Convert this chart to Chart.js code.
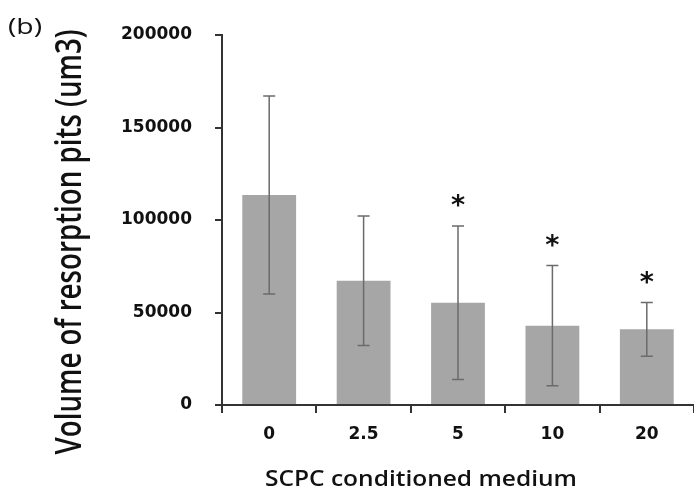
<!DOCTYPE html>
<html lang="en">
<head>
  <meta charset="UTF-8">
  <title>Volume of resorption pits</title>
  <script src="https://cdn.jsdelivr.net/npm/chart.js"></script>
  <style>
    html, body { margin: 0; padding: 0; background: #fff; }
    .wrap { position: relative; width: 694px; height: 491px; }
  </style>
</head>
<body>
  <div class="wrap"><canvas id="pitsChart"></canvas></div>

  <script>
    // values
    const doses = ['0', '2.5', '5', '10', '20'];
    const meanVolume = [113500, 67200, 55300, 42900, 40900];
    const sdVolume = [53500, 35000, 41500, 32500, 14500];
    const significant = [false, false, true, true, true];
    const yTicks = [0, 50000, 100000, 150000, 200000];

    const panelLabel = '(b)';
    const yTitle = 'Volume of resorption pits (um3)';
    const xTitle = 'SCPC conditioned medium';

    const axisColor = '#333';
    const tickFont = { family: 'DejaVu Sans', weight: 'bold', size: 17 };

    // text stretched to a given length (the source figure was resized unevenly)
    function stretchedText(ctx, text, font, cx, baseY, length, tall, angle) {
      ctx.save();
      ctx.font = font;
      const w = ctx.measureText(text).width;
      ctx.translate(cx, baseY);
      ctx.rotate(angle);
      ctx.scale(length / w, tall);
      ctx.textAlign = 'center';
      ctx.textBaseline = 'alphabetic';
      ctx.fillText(text, 0, 0);
      ctx.restore();
    }

    // error bars, stars, titles and panel letter
    const extras = {
      id: 'extras',
      afterDatasetsDraw(chart) {
        const ctx = chart.ctx;
        const y = chart.scales.y;
        const bars = chart.getDatasetMeta(0).data;
        ctx.save();
        ctx.strokeStyle = '#6b6b6b';
        ctx.lineWidth = 1.5;
        bars.forEach((bar, i) => {
          const hi = y.getPixelForValue(meanVolume[i] + sdVolume[i]);
          const lo = y.getPixelForValue(meanVolume[i] - sdVolume[i]);
          ctx.beginPath();
          ctx.moveTo(bar.x, hi); ctx.lineTo(bar.x, lo);
          ctx.moveTo(bar.x - 6, hi); ctx.lineTo(bar.x + 6, hi);
          ctx.moveTo(bar.x - 6, lo); ctx.lineTo(bar.x + 6, lo);
          ctx.stroke();

          if (significant[i]) {
            ctx.fillStyle = '#111';
            ctx.font = 'bold 27px "DejaVu Sans"';
            ctx.textAlign = 'center';
            ctx.textBaseline = 'alphabetic';
            const m = ctx.measureText('*');
            const mid = (m.actualBoundingBoxAscent - m.actualBoundingBoxDescent) / 2;
            ctx.fillText('*', bar.x, hi - 25 + mid);
          }
        });
        ctx.restore();
      },
      afterDraw(chart) {
        const ctx = chart.ctx;
        ctx.fillStyle = '#111';
        stretchedText(ctx, yTitle, '600 24px "Open Sans"', 81, 242, 425, 1.5, -Math.PI / 2);
        stretchedText(ctx, xTitle, '600 21px "Open Sans"', 421, 486, 312, 1, 0);

        ctx.save();
        ctx.font = '21px "Open Sans"';
        ctx.translate(8, 34);
        ctx.scale(1.35, 1);
        ctx.textAlign = 'left';
        ctx.fillText(panelLabel, 0, 0);
        ctx.restore();
      }
    };

    new Chart(document.getElementById('pitsChart'), {
      type: 'bar',
      data: {
        labels: doses,
        datasets: [{
          data: meanVolume,
          backgroundColor: '#a6a6a6',
          categoryPercentage: 1,
          barPercentage: 0.57
        }]
      },
      options: {
        responsive: true,
        maintainAspectRatio: false,
        animation: false,
        layout: { padding: { top: 35, right: 0, bottom: 0, left: 0 } },
        plugins: { legend: { display: false }, tooltip: { enabled: false } },
        scales: {
          x: {
            afterFit: s => { s.height = 86; },
            border: { color: axisColor, width: 2 },
            grid: { offset: true, drawOnChartArea: false, tickLength: 8, color: axisColor, lineWidth: 2 },
            ticks: { color: '#111', padding: 11, font: tickFont }
          },
          y: {
            min: 0,
            max: 200000,
            afterBuildTicks: s => { s.ticks = yTicks.map(v => ({ value: v })); },
            afterFit: s => { s.width = 222; },
            border: { color: axisColor, width: 2 },
            grid: { drawOnChartArea: false, tickLength: 7, color: axisColor, lineWidth: 2 },
            ticks: { color: '#111', padding: 23, font: tickFont, callback: v => String(v) }
          }
        }
      },
      plugins: [extras]
    });
  </script>
</body>
</html>
